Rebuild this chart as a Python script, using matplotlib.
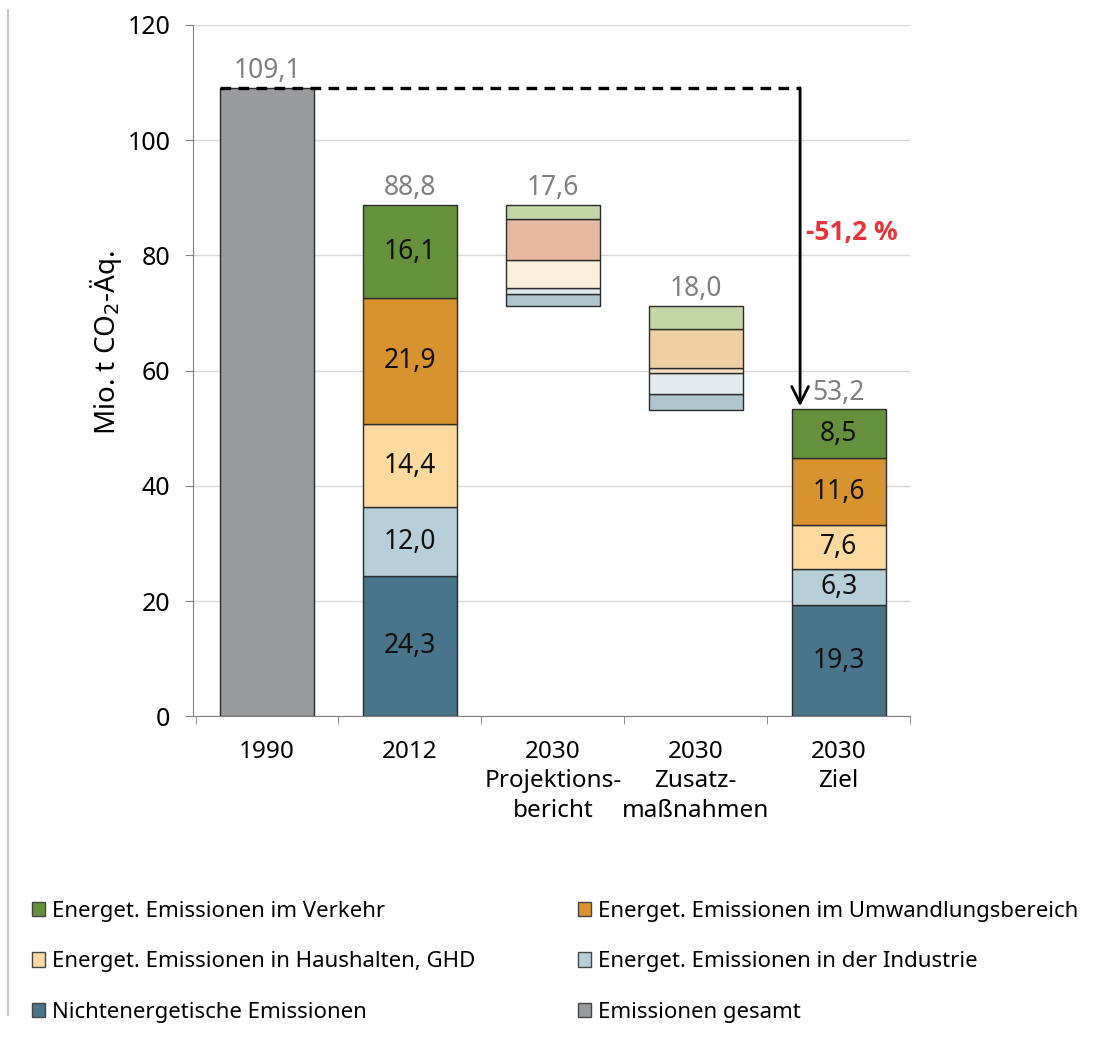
import matplotlib
matplotlib.use('Agg')
import matplotlib.pyplot as plt
from matplotlib.lines import Line2D
from matplotlib.patches import Patch

plt.rcParams['font.family'] = ['Noto Sans', 'DejaVu Sans']

# data
categories = ['1990', '2012', '2030\nProjektions-\nbericht', '2030\nZusatz-\nmaßnahmen', '2030\nZiel']
sectors = ['Nichtenergetische Emissionen', 'Energet. Emissionen in der Industrie',
           'Energet. Emissionen in Haushalten, GHD', 'Energet. Emissionen im Umwandlungsbereich',
           'Energet. Emissionen im Verkehr']
total_1990 = 109.1
stack_2012 = [24.3, 12.0, 14.4, 21.9, 16.1]
red_proj = [2.1, 1.1, 4.8, 7.1, 2.5]     # Minderung Projektionsbericht
red_zusatz = [2.8, 3.5, 0.9, 6.8, 4.0]   # Minderung Zusatzmassnahmen
stack_ziel = [19.3, 6.3, 7.6, 11.6, 8.5]
totals = [109.1, 88.8, 17.6, 18.0, 53.2]
tops = [109.1, 88.8, 88.8, 71.2, 53.2]
change_label = '-51,2 %'

col_main = ['#48758a', '#b7cfd8', '#fdd99f', '#d89230', '#66913c']
col_proj = ['#afc6cf', '#dfe8ec', '#fcefd9', '#e6b8a0', '#c3d6a6']
col_zus = ['#afc6cf', '#e3ebee', '#f6e0c0', '#efd0a5', '#c3d6a6']
col_gray = '#999b9c'

fig = plt.figure(figsize=(11.14, 10.41), dpi=100)
ax = fig.add_axes([0.173, 0.312, 0.644, 0.664])

w = 0.66
ec = '#2b2b2b'
fs_val = 19
fs_tick = 17.5
ax.bar(0, total_1990, width=w, color=col_gray, edgecolor=ec, lw=1, zorder=3)

def stack(x, vals, cols, base=0.0, labels=True):
    b = base
    for v, c in zip(vals, cols):
        ax.bar(x, v, bottom=b, width=w, color=c, edgecolor=ec, lw=1, zorder=3)
        if labels:
            ax.text(x, b + v / 2, f'{v:.1f}'.replace('.', ','), ha='center', va='center',
                    fontsize=fs_val, color='#111111', zorder=4)
        b += v

stack(1, stack_2012, col_main)
stack(2, red_proj, col_proj, base=tops[2] - sum(red_proj), labels=False)
stack(3, red_zusatz, col_zus, base=tops[3] - sum(red_zusatz), labels=False)
stack(4, stack_ziel, col_main)

for i, (t, top) in enumerate(zip(totals, tops)):
    ax.text(i, top + 0.5, f'{t:.1f}'.replace('.', ','), ha='center', va='bottom',
            fontsize=fs_val, color='#808080', zorder=4)

# reduction arrow
ax_x = 3.73
ax.plot([-0.33, ax_x], [total_1990, total_1990], color='black', lw=2.4,
        dashes=(3.2, 2.2), zorder=5)
ax.annotate('', xy=(ax_x, tops[4] + 0.6), xytext=(ax_x, total_1990),
            arrowprops=dict(arrowstyle='->', lw=2, color='black',
                            mutation_scale=30, shrinkA=0, shrinkB=0), zorder=5)
ax.text(ax_x + 0.04, 84, change_label, color='#e8343c', fontsize=fs_val,
        fontweight='bold', family=['Open Sans', 'DejaVu Sans'], ha='left', va='center')

ax.set_xlim(-0.52, 4.5)
ax.set_ylim(0, 120)
ax.set_yticks(range(0, 121, 20))
ax.set_xticks([0, 1, 2, 3, 4])
ax.set_xticklabels(categories, fontsize=fs_tick, linespacing=1.3)
ax.set_xticks([-0.5, 0.5, 1.5, 2.5, 3.5, 4.5], minor=True)
ax.tick_params(axis='x', which='major', length=0, pad=17)
ax.tick_params(axis='x', which='minor', length=6, color='#808080')
ax.tick_params(axis='y', labelsize=18, length=6, color='#808080', pad=10)
ax.grid(axis='y', color='#d9d9d9', lw=1, zorder=0)
for s in ['top', 'right']:
    ax.spines[s].set_visible(False)
for s in ['left', 'bottom']:
    ax.spines[s].set_color('#808080')
ax.set_ylabel('Mio. t CO$_2$-Äq.', fontsize=20)
ax.yaxis.set_label_coords(-0.096, 0.54)

# legend (row-major as in the original: fill columns accordingly)
order = [4, 2, 0, 3, 1]
handles = [Patch(facecolor=col_main[i], edgecolor='#444444', label=sectors[i]) for i in order]
handles.append(Patch(facecolor=col_gray, edgecolor='#444444', label='Emissionen gesamt'))
leg = fig.legend(handles=handles, ncol=2, loc='upper left', bbox_to_anchor=(0.0104, 0.154),
                 frameon=False, fontsize=16, handlelength=0.62, handleheight=0.62,
                 handletextpad=0.3, columnspacing=4.6, labelspacing=1.33)

fig.add_artist(Line2D([0.007, 0.007], [0.025, 0.99], color='#c8c8c8', lw=1.5))

fig.savefig('out.png', dpi=100)
